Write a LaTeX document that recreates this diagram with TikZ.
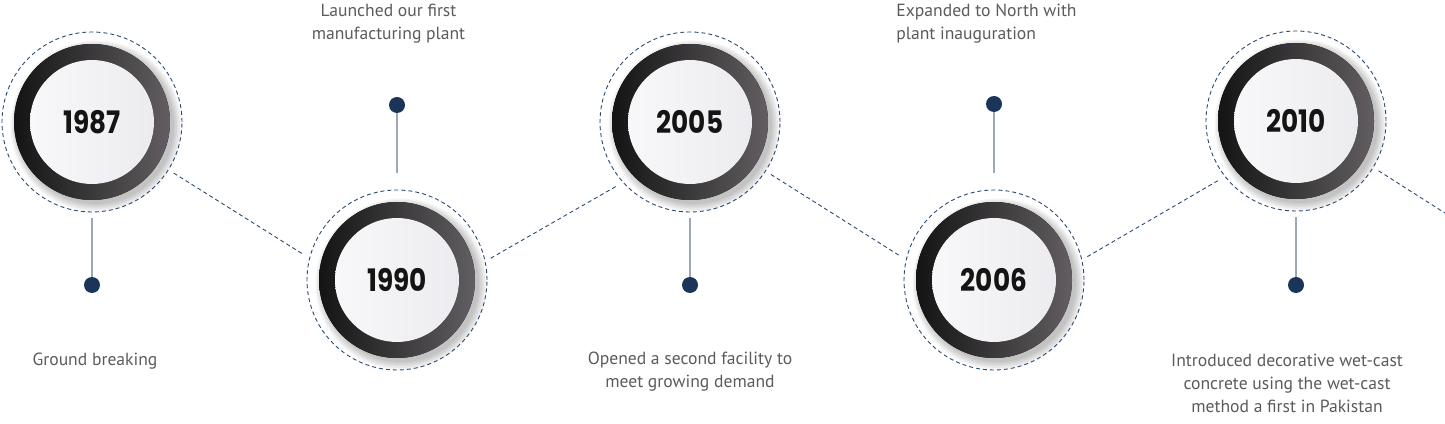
\documentclass[tikz,border=0pt]{standalone}
\usepackage{fontspec}
\setmainfont{PT Sans}
\newfontfamily\yearfont{Poppins}[FakeStretch=0.85]
\usepackage{xcolor}
\definecolor{tNavy}{HTML}{2B4A73}
\definecolor{tDot}{HTML}{1B3558}
\definecolor{tStem}{HTML}{9CA7B7}
\definecolor{tText}{HTML}{5B5B5B}
\definecolor{rDark}{HTML}{141414}
\definecolor{rMid}{HTML}{4B5259}
\definecolor{rLight}{HTML}{625E61}
\definecolor{wLeft}{HTML}{F8F8FA}
\definecolor{wRight}{HTML}{ECECF0}
\usetikzlibrary{positioning, calc}

\tikzset{
  halo/.style={circle, draw=tNavy, line width=0.9pt, dash pattern=on 4pt off 3pt,
    minimum size=180pt, inner sep=0pt},
  link/.style={draw=tNavy, line width=0.9pt, dash pattern=on 4pt off 3pt,
    shorten <=6pt, shorten >=6pt},
  pin/.style={circle, fill=tDot, minimum size=16pt, inner sep=0pt},
  stem/.style={draw=tStem, line width=2pt},
  note/.style={text=tText, font=\fontsize{17.6}{23}\selectfont, align=center},
  yearlabel/.style={text=black!92, font=\yearfont\bfseries\fontsize{31}{31}\selectfont}
}

\begin{document}
\begin{tikzpicture}[x=1pt, y=1pt]
\useasboundingbox (0,0) rectangle (1445,423);
\clip (0,0) rectangle (1445,423);

% year discs
\foreach \yr/\x/\y in {1987/92/301, 1990/397/143, 2005/690/301, 2006/994/143, 2010/1296/302}{
  \foreach \k in {0,...,5}
    \fill[black, opacity=0.045] (\x+4,\y-4) circle ({78+\k*1.5});
  \fill[left color=rDark, middle color=rMid, right color=rLight] (\x,\y) circle (78);
  \fill[left color=wLeft, right color=wRight] (\x,\y) circle (62);
  \node[yearlabel] (y\yr) at (\x,\y) {\yr};
  \node[halo] (c\yr) at (\x,\y) {};
}

% dashed links
\coordinate (tail) at (1470,194);
\draw[link] (c1987.-32) -- (c1990.166);
\draw[link] (c1990.12.5) -- (c2005.222);
\draw[link] (c2005.-33) -- (c2006.167);
\draw[link] (c2006.13) -- (c2010.218);
\draw[link] (c2010.-31) -- (tail);

% pins and stems
\node[pin] (d1987) at (92,138) {};
\node[pin] (d1990) at (397,318) {};
\node[pin] (d2005) at (690,138) {};
\node[pin] (d2006) at (994,319) {};
\node[pin] (d2010) at (1296,138) {};

\draw[stem, shorten >=6pt] (d1987.north) -- (c1987.south);
\draw[stem, shorten >=17pt] (d1990.south) -- (c1990.north);
\draw[stem, shorten >=6pt] (d2005.north) -- (c2005.south);
\draw[stem, shorten >=17pt] (d2006.south) -- (c2006.north);
\draw[stem, shorten >=6pt] (d2010.north) -- (c2010.south);

% notes
\node[note] (t1987) at (95,62) {Ground breaking};
\node[note] (t1990) at (388.5,399) {Launched our first\\manufacturing plant};
\node[note] (t2005) at (690,51.5) {Opened a second facility to\\meet growing demand};
\node[note, align=left] (t2006) at (986.5,399) {Expanded to North with\\plant inauguration};
\node[note] (t2010) at (1287,40) {Introduced decorative wet-cast\\concrete using the wet-cast\\method a first in Pakistan};
\end{tikzpicture}
\end{document}
